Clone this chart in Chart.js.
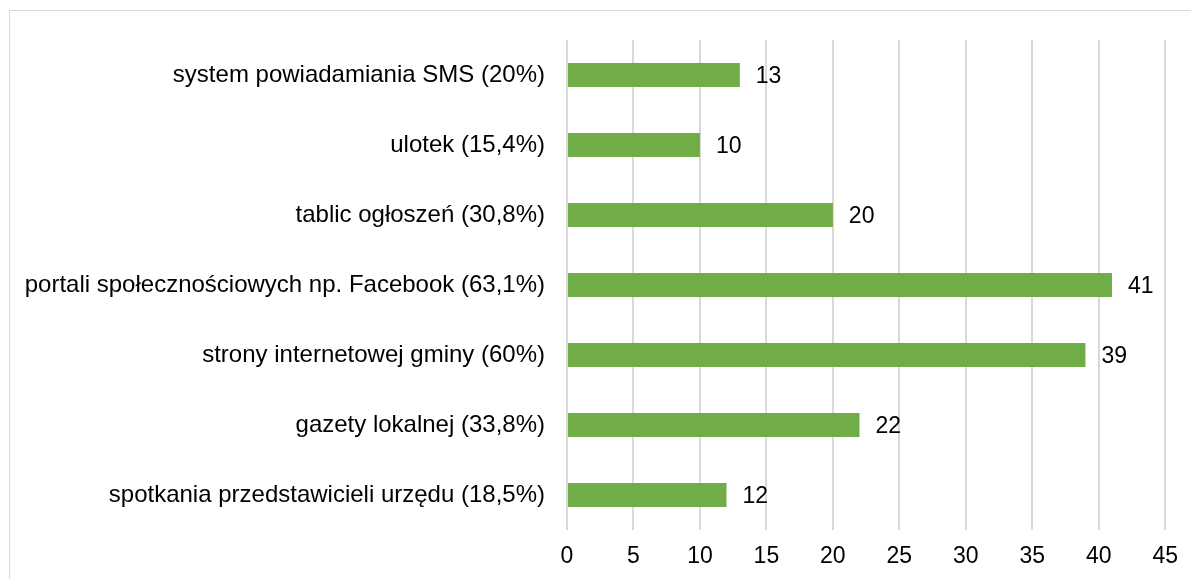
<!DOCTYPE html>
<html>
<head>
<meta charset="utf-8">
<script src="https://cdn.jsdelivr.net/npm/chart.js@4"></script>
<style>
  html, body { margin: 0; padding: 0; background: #fff; }
  #wrap { position: relative; width: 1191px; height: 579px; overflow: hidden; }
  #frame { position: absolute; left: 9px; top: 10px; width: 1300px; height: 700px; border: 1px solid #d9d9d9; box-sizing: border-box; }
  canvas { position: absolute; left: 0; top: 0; }
</style>
</head>
<body>
<div id="wrap">
  <div id="frame"></div>
  <canvas id="myChart" width="1191" height="579"></canvas>
</div>
<script>
const categories = [
  "system powiadamiania SMS (20%)",
  "ulotek (15,4%)",
  "tablic ogłoszeń (30,8%)",
  "portali społecznościowych np. Facebook (63,1%)",
  "strony internetowej gminy (60%)",
  "gazety lokalnej (33,8%)",
  "spotkania przedstawicieli urzędu (18,5%)"
];
const answers = [13, 10, 20, 41, 39, 22, 12];

const FONT = "'Liberation Sans', Arial, sans-serif";

// numbers written just past the end of each bar
const valueLabels = {
  id: "valueLabels",
  afterDatasetsDraw(chart) {
    const ctx = chart.ctx;
    const meta = chart.getDatasetMeta(0);
    ctx.save();
    ctx.font = "23px " + FONT;
    ctx.fillStyle = "#000";
    ctx.textBaseline = "middle";
    ctx.textAlign = "left";
    meta.data.forEach((bar, i) => {
      ctx.fillText(String(answers[i]), bar.x + 16, bar.y + 2);
    });
    ctx.restore();
  }
};

const ctx = document.getElementById("myChart").getContext("2d");
const myChart = new Chart(ctx, {
  type: "bar",
  data: {
    labels: categories,
    datasets: [
      {
        data: answers,
        backgroundColor: "#70AD47",
        borderWidth: 0,
        categoryPercentage: 1,
        barPercentage: 0.345
      }
    ]
  },
  options: {
    indexAxis: "y",
    responsive: false,
    animation: false,
    layout: { padding: { top: 40, right: 25, left: 0, bottom: 0 } },
    plugins: {
      legend: { display: false },
      tooltip: { enabled: false }
    },
    scales: {
      x: {
        min: 0,
        max: 45,
        ticks: {
          stepSize: 5,
          padding: 13,
          color: "#000",
          font: { family: FONT, size: 23 }
        },
        grid: { color: "#d9d9d9", lineWidth: 2, drawTicks: false },
        border: { display: false },
        afterFit(scale) { scale.height = 49; }
      },
      y: {
        ticks: {
          padding: 22,
          color: "#000",
          font: { family: FONT, size: 24 }
        },
        grid: { display: false, drawTicks: false },
        border: { display: false },
        afterFit(scale) { scale.width = 567; }
      }
    }
  },
  plugins: [valueLabels]
});
</script>
</body>
</html>
